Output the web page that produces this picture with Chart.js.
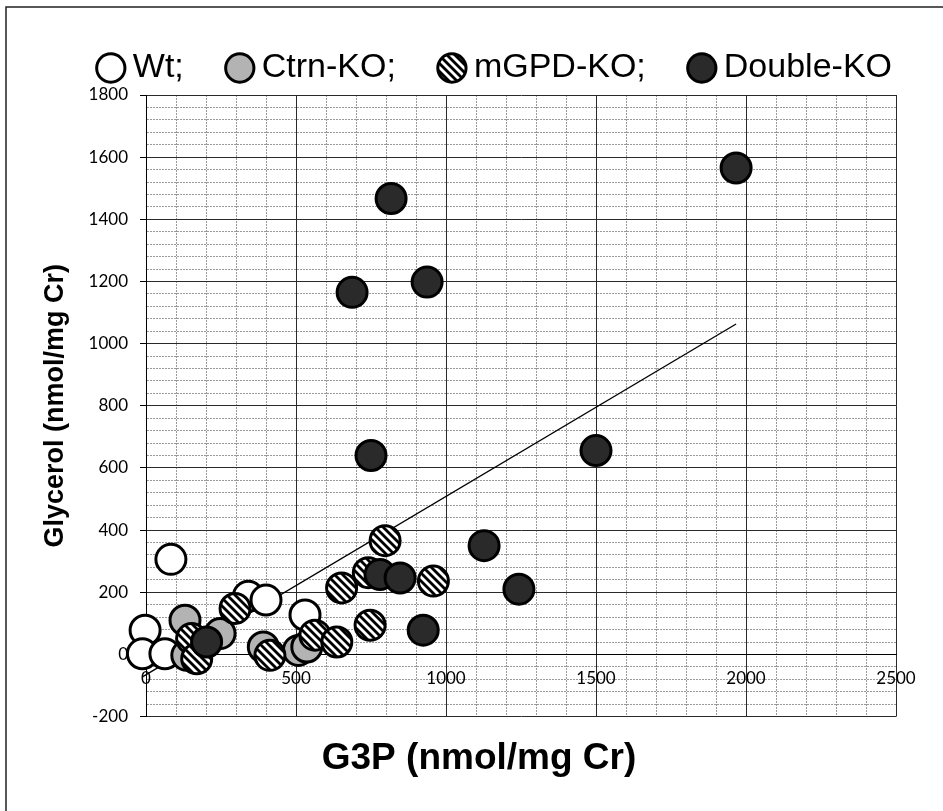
<!DOCTYPE html>
<html><head><meta charset="utf-8">
<script src="https://cdn.jsdelivr.net/npm/chart.js@4"></script>
<style>html,body{margin:0;padding:0;background:#fff}</style>
</head><body>
<canvas id="c" width="943" height="811"></canvas>
<script>
// ---- data ----
const seriesNames = ['Wt;', 'Ctrn-KO;', 'mGPD-KO;', 'Double-KO'];

const wtX = [83, -3, -12, 63, 341, 400, 530];
const wtY = [306, 78, 2, 2, 187, 175, 127];

const ctrnX = [130, 136, 247, 391, 508, 536];
const ctrnY = [110, -3, 67, 24, 13, 24];

const mgpdX = [152, 169, 297, 413, 563, 636, 652, 741, 747, 797, 958];
const mgpdY = [51, -14, 148, -3, 62, 40, 214, 263, 94, 366, 236];

const dblX = [202, 780, 847, 924, 1127, 1243, 750, 1500, 687, 937, 817, 1967];
const dblY = [40, 257, 246, 78, 350, 210, 640, 656, 1165, 1198, 1467, 1565];

// linear trendline end points (as drawn in the reference)
const trendX = [-12, 1967];
const trendY = [-72, 1063];

const xTickLabels = [0, 500, 1000, 1500, 2000, 2500];
const yTickLabels = [-200, 0, 200, 400, 600, 800, 1000, 1200, 1400, 1600, 1800];

const xTitle = 'G3P (nmol/mg Cr)';
const yTitle = 'Glycerol (nmol/mg Cr)';

// ---- helpers ----
const pts = (xs, ys) => xs.map((x, i) => ({x: x, y: ys[i]}));
const isMajor = (v, list) => list.some(t => Math.abs(t - v) < 1e-6);

function stripePattern() {
  const c = document.createElement('canvas');
  c.width = 8; c.height = 8;
  const g = c.getContext('2d');
  g.fillStyle = '#fff'; g.fillRect(0, 0, 8, 8);
  g.strokeStyle = '#000'; g.lineWidth = 2.8;
  for (const k of [-8, 0, 8]) {
    g.beginPath(); g.moveTo(k - 2, -2); g.lineTo(k + 10, 10); g.stroke();
  }
  return g.createPattern(c, 'repeat');
}
const stripes = stripePattern();

const framePlugin = {
  id: 'frame',
  beforeDraw(chart) {
    const g = chart.ctx;
    g.save();
    g.fillStyle = '#fff';
    g.fillRect(0, 0, chart.width, chart.height);
    g.strokeStyle = '#222';
    g.lineWidth = 1.5;
    g.strokeRect(6, 7, chart.width + 20, chart.height + 20);
    g.restore();
  }
};

const FONT = "'Liberation Sans', Arial, sans-serif";
const TICKFONT = "Lato, 'Open Sans', sans-serif";

const markerBase = {borderColor: '#000', borderWidth: 3, pointRadius: 15, pointHoverRadius: 15, clip: false};

new Chart(document.getElementById('c'), {
  type: 'scatter',
  data: {
    datasets: [
      Object.assign({label: seriesNames[0], data: pts(wtX, wtY), backgroundColor: '#ffffff', order: 4}, markerBase),
      Object.assign({label: seriesNames[1], data: pts(ctrnX, ctrnY), backgroundColor: '#b3b3b3', order: 3}, markerBase),
      Object.assign({label: seriesNames[2], data: pts(mgpdX, mgpdY), backgroundColor: stripes, order: 2}, markerBase),
      Object.assign({label: seriesNames[3], data: pts(dblX, dblY), backgroundColor: '#2a2a2a', order: 1}, markerBase),
      {type: 'line', label: 'trend', data: pts(trendX, trendY), borderColor: '#000', borderWidth: 1.3,
       pointRadius: 0, pointHoverRadius: 0, fill: false, order: 10, clip: false}
    ]
  },
  options: {
    responsive: false,
    animation: false,
    devicePixelRatio: 1,
    layout: {padding: {left: 15, right: 0, top: 0, bottom: 0}},
    plugins: {
      tooltip: {enabled: false},
      legend: {
        position: 'top', align: 'end', maxHeight: 103,
        labels: {
          usePointStyle: true, pointStyle: 'circle', boxWidth: 10, boxHeight: 20, padding: 51,
          color: '#000', font: {family: FONT, size: 34},
          filter: item => item.text !== 'trend',
          sort: (a, b) => a.datasetIndex - b.datasetIndex
        }
      },
      title: {
        display: true, position: 'bottom', text: xTitle, color: '#000',
        font: {family: FONT, size: 37, weight: 'bold'},
        padding: {top: 20, bottom: 30}
      }
    },
    scales: {
      x: {
        type: 'linear', position: {y: 0}, min: 0, max: 2500,
        afterFit: s => { s.height = 0; },
        ticks: {
          stepSize: 100, autoSkip: false, maxRotation: 0, padding: 14, color: '#000',
          font: {family: TICKFONT, size: 17},
          callback: v => isMajor(v, xTickLabels) ? String(v) : ''
        },
        grid: {
          drawTicks: false, lineWidth: 1,
          color: c => (c.tick && isMajor(c.tick.value, xTickLabels)) ? '#2a2a2a' : '#9a9a9a'
        },
        border: {display: true, color: '#000', width: 1,
          dash: c => (c.tick && !isMajor(c.tick.value, xTickLabels)) ? [2, 1] : []}
      },
      y: {
        type: 'linear', position: 'left', min: -200, max: 1800,
        afterFit: s => { s.width = 131; },
        ticks: {
          stepSize: 40, autoSkip: false, padding: 12, color: '#000',
          font: {family: TICKFONT, size: 17},
          callback: v => isMajor(v, yTickLabels) ? String(v) : ''
        },
        grid: {
          tickLength: 6, lineWidth: 1,
          color: c => (c.tick && isMajor(c.tick.value, yTickLabels)) ? '#2a2a2a' : '#9a9a9a',
          tickColor: c => (c.tick && isMajor(c.tick.value, yTickLabels)) ? '#000' : 'rgba(0,0,0,0)'
        },
        border: {display: true, color: '#000', width: 1,
          dash: c => (c.tick && !isMajor(c.tick.value, yTickLabels)) ? [2, 1] : []},
        title: {
          display: true, text: yTitle, color: '#000',
          font: {family: FONT, size: 27, weight: 'bold'},
          padding: {top: 24, bottom: 0}
        }
      },
      y2: {
        type: 'linear', position: 'right', display: true,
        afterFit: s => { s.width = 47; },
        ticks: {display: false},
        grid: {display: false, drawTicks: false},
        border: {display: false}
      }
    }
  },
  plugins: [framePlugin]
});
</script>
</body></html>
